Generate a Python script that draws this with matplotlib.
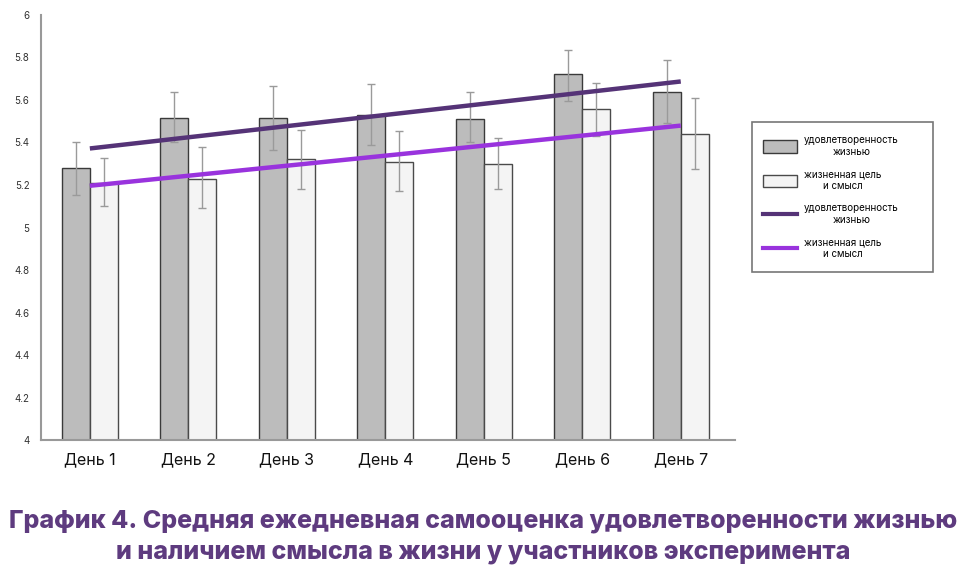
import numpy as np
import matplotlib.pyplot as plt
from matplotlib.patches import Patch, Rectangle
from matplotlib.lines import Line2D

plt.rcParams['font.family'] = ['Inter', 'DejaVu Sans']

days = ["День 1", "День 2", "День 3", "День 4", "День 5", "День 6", "День 7"]

# удовлетворенность жизнью
satisfaction = [5.28, 5.515, 5.515, 5.53, 5.51, 5.72, 5.635]
satisfaction_lo = [5.155, 5.40, 5.365, 5.39, 5.40, 5.595, 5.49]
satisfaction_hi = [5.40, 5.635, 5.665, 5.675, 5.635, 5.835, 5.79]

# жизненная цель и смысл
meaning = [5.21, 5.23, 5.32, 5.31, 5.30, 5.555, 5.44]
meaning_lo = [5.10, 5.09, 5.18, 5.17, 5.18, 5.43, 5.275]
meaning_hi = [5.325, 5.38, 5.46, 5.455, 5.42, 5.68, 5.61]

legend_labels = ["удовлетворенность\nжизнью", "жизненная цель\nи смысл"]

title = ("График 4. Средняя ежедневная самооценка удовлетворенности жизнью\n"
         "и наличием смысла в жизни у участников эксперимента")

x = np.arange(len(days))
w = 0.284

fig = plt.figure(figsize=(9.67, 5.71), dpi=100)
ax = fig.add_axes([0.042, 0.229, 0.718, 0.745])

sat = np.array(satisfaction)
mea = np.array(meaning)
sat_err = [sat - np.array(satisfaction_lo), np.array(satisfaction_hi) - sat]
mea_err = [mea - np.array(meaning_lo), np.array(meaning_hi) - mea]

ax.bar(x - w / 2, sat, w, color="#bcbcbc", edgecolor="#3a3a3a", linewidth=1.0, zorder=2)
ax.bar(x + w / 2, mea, w, color="#f4f4f4", edgecolor="#4a4a4a", linewidth=1.0, zorder=2)
ax.errorbar(x - w / 2, sat, yerr=sat_err, fmt="none", ecolor="#9a9a9a", elinewidth=1, capsize=3, zorder=3)
ax.errorbar(x + w / 2, mea, yerr=mea_err, fmt="none", ecolor="#9a9a9a", elinewidth=1, capsize=3, zorder=3)

# linear trend lines
k1, b1 = np.polyfit(x, sat, 1)
k2, b2 = np.polyfit(x, mea, 1)
ax.plot(x, k1 * x + b1, color="#553377", linewidth=3.2, solid_capstyle="butt", zorder=4)
ax.plot(x, k2 * x + b2, color="#9933dd", linewidth=3.2, solid_capstyle="butt", zorder=4)

ax.set_ylim(4, 6)
ax.set_xlim(-0.5, 6.55)
ax.set_yticks([4, 4.2, 4.4, 4.6, 4.8, 5, 5.2, 5.4, 5.6, 5.8, 6])
ax.set_yticklabels(["4", "4.2", "4.4", "4.6", "4.8", "5", "5.2", "5.4", "5.6", "5.8", "6"],
                   fontsize=7, color="#333333")
ax.set_xticks(x)
ax.set_xticklabels(days, fontsize=11.5, color="#111111")
ax.tick_params(axis="both", length=0)
ax.tick_params(axis="x", pad=9)
ax.tick_params(axis="y", pad=8)
for s in ["top", "right"]:
    ax.spines[s].set_visible(False)
for s in ["left", "bottom"]:
    ax.spines[s].set_color("#999999")
    ax.spines[s].set_linewidth(1.5)

# legend box
fig.patches.append(Rectangle((752 / 967, 1 - 272 / 571), 181 / 967, 150 / 571,
                             transform=fig.transFigure, facecolor="white",
                             edgecolor="#777777", linewidth=1.2))
handles = [
    Patch(facecolor="#bcbcbc", edgecolor="#3a3a3a", linewidth=1.0),
    Patch(facecolor="#f4f4f4", edgecolor="#4a4a4a", linewidth=1.0),
    Line2D([0], [0], color="#553377", linewidth=3),
    Line2D([0], [0], color="#9933dd", linewidth=3),
]
leg = fig.legend(handles, legend_labels + legend_labels, loc="upper left",
                 bbox_to_anchor=(763 / 967, 1 - 135 / 571), frameon=False,
                 fontsize=7, labelspacing=1.3, handlelength=3.5, handleheight=1.6,
                 borderpad=0, handletextpad=0.7, borderaxespad=0)
for t in leg.get_texts():
    t.set_multialignment("center")

fig.text(0.5, 0.0604, title, ha="center", va="center", fontsize=18, fontweight="heavy",
         color="#5e3b7f", linespacing=1.4)

fig.savefig("out.png", dpi=100)
